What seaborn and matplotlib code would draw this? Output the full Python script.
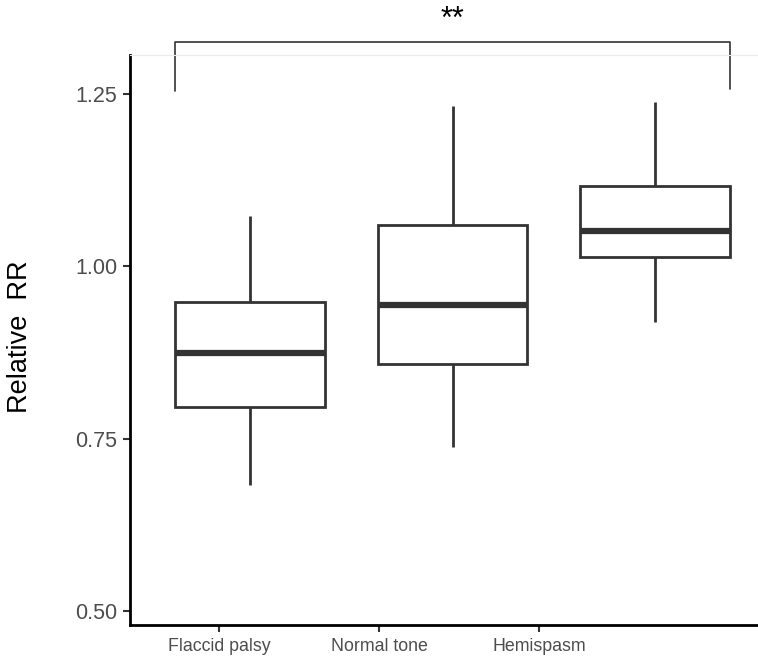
import numpy as np
import pandas as pd
import matplotlib
matplotlib.use("Agg")
import matplotlib.pyplot as plt
import seaborn as sns

# groups and the five-number summaries
groups = ["Flaccid palsy", "Normal tone", "Hemispasm"]
whisker_low = [0.683, 0.738, 0.919]
q1 = [0.796, 0.858, 1.014]
median = [0.874, 0.944, 1.051]
q3 = [0.948, 1.060, 1.117]
whisker_high = [1.073, 1.233, 1.238]

y_ticks = [0.50, 0.75, 1.00, 1.25]
y_tick_labels = ["0.50", "0.75", "1.00", "1.25"]
# x tick marks sit left of the boxes in the original figure
x_tick_pos = [-0.153, 0.637, 1.427]
signif = "**"

rows = []
for g, lo, a, m, b, hi in zip(groups, whisker_low, q1, median, q3, whisker_high):
    for v in (lo, a, m, b, hi):
        rows.append({"group": g, "rr": v})
df = pd.DataFrame(rows)

sns.set_style("white")
plt.rcParams['font.family'] = ['Liberation Sans', 'DejaVu Sans']

fig = plt.figure(figsize=(7.58, 6.6), dpi=100)
ax = fig.add_axes([0.1715, 0.053, 0.8285, 0.864])

dark = "#333333"
sns.boxplot(data=df, x="group", y="rr", order=groups, width=0.74, whis=(0, 100),
            color="white", linecolor=dark, linewidth=2, showcaps=False,
            medianprops={"color": dark, "linewidth": 4.5},
            showfliers=False, ax=ax)

ax.set_xlim(-0.593, 2.509)
ax.set_ylim(0.48, 1.307)
ax.set_yticks(y_ticks)
ax.set_yticklabels(y_tick_labels, fontsize=15.5, color="#4d4d4d")
ax.set_xticks(x_tick_pos)
ax.set_xticklabels(groups, fontsize=12.8, color="#4d4d4d")
ax.tick_params(axis="both", bottom=True, left=True, length=5, width=1.5,
               color=dark, pad=4)

ax.set_xlabel("")
ax.set_ylabel("Relative  RR", fontsize=19.5, color="black")
ax.yaxis.set_label_coords(-0.155, 0.505)

for side in ["left", "bottom"]:
    ax.spines[side].set_color("black")
    ax.spines[side].set_linewidth(2)
ax.spines["right"].set_visible(False)
ax.spines["top"].set_color("#ebebeb")
ax.spines["top"].set_linewidth(0.8)

# significance bracket between the outer groups
bx = [-0.37, -0.37, 2.37, 2.37]
by = [1.254, 1.325, 1.325, 1.257]
ax.plot(bx, by, color=dark, lw=1.2, clip_on=False)
ax.text(1.0, 1.336, signif, ha="center", va="bottom", fontsize=22, color="black")

fig.savefig("out.png", dpi=100)
